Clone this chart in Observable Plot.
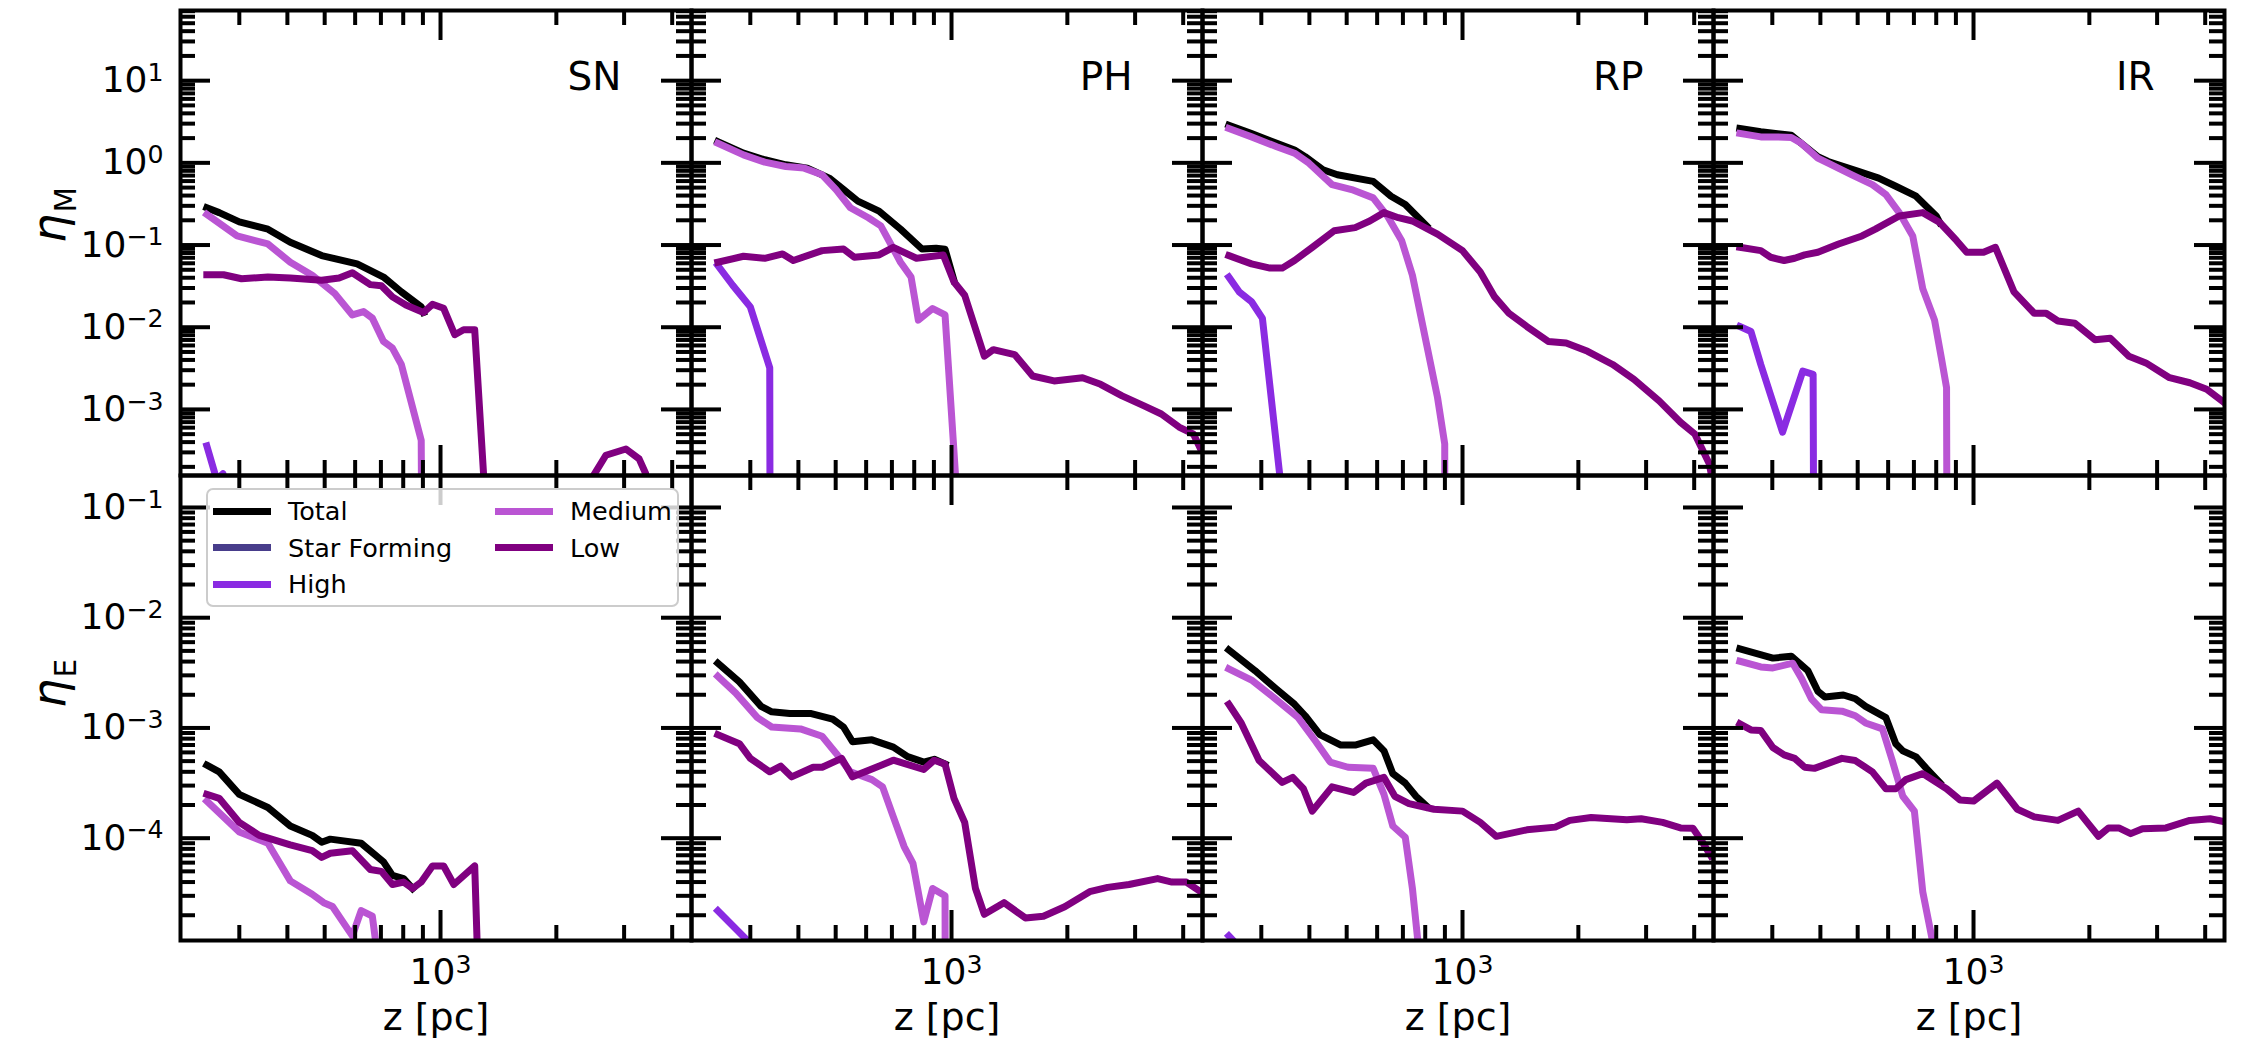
<!DOCTYPE html>
<html>
<head>
<meta charset="utf-8">
<script src="https://cdn.jsdelivr.net/npm/d3@7"></script>
<script src="https://cdn.jsdelivr.net/npm/@observablehq/plot@0.6"></script>
<style>
  body { margin: 0; background: #fff; }
  #fig { position: relative; width: 2250px; height: 1050px; background: #fff; font-family: "DejaVu Sans", sans-serif; color: #000; }
</style>
</head>
<body>
<div id="fig"></div>
<script>
// ---------------- categories / labels ----------------
const panels = ["SN", "PH", "RP", "IR"];
const rowLabels = ["η_M", "η_E"];
const series = ["Total", "Star Forming", "High", "Medium", "Low"];
const colors = ["#000000", "#483D8B", "#8A2BE2", "#BA55D3", "#800080"];
const xLabel = "z [pc]";

// ---------------- axes ----------------
const xDomain = [211, 4490];
const yDomainM = [1.57e-4, 71.4];
const yDomainE = [1.18e-5, 0.195];
const xMajor = [1000];
const xMinor = [300, 400, 500, 600, 700, 800, 900, 2000, 3000, 4000];
const yDecadesM = [1e-3, 1e-2, 1e-1, 1, 10];
const yDecadesE = [1e-4, 1e-3, 1e-2, 1e-1];

// ---------------- data: [z (pc), eta] ----------------
// SN, mass loading
const SN_M_total = [[247,0.284],[266,0.248],[300,0.191],[356,0.156],[407,0.108],[491,0.0744],[607,0.059],[711,0.0408],[791,0.0269],[891,0.0177],[903,0.0151]];
const SN_M_high = [[247,3.6e-4],[262,1.4e-4],[272,1.65e-4],[285,5e-5],[300,0]];
const SN_M_medium = [[247,0.236],[296,0.129],[356,0.103],[407,0.0618],[464,0.0428],[531,0.0257],[590,0.0141],[631,0.0155],[665,0.0129],[711,0.00672],[750,0.00558],[791,0.00352],[891,4.19e-4],[950,0]];
const SN_M_low = [[247,0.0435],[273,0.0435],[304,0.0389],[356,0.0408],[407,0.0398],[491,0.0372],[545,0.0398],[590,0.046],[657,0.033],[702,0.032],[750,0.0234],[813,0.0186],[903,0.0151],[953,0.019],[1019,0.017],[1089,0.0081],[1148,0.0093],[1227,0.0093],[1330,2e-5],[1400,0],[2400,0],[2483,1.5e-4],[2690,2.77e-4],[3033,3.3e-4],[3282,2.5e-4],[3413,1.66e-4],[3600,0]];
// SN, energy loading
const SN_E_total = [[247,4.6e-4],[266,4.0e-4],[300,2.5e-4],[356,1.9e-4],[407,1.29e-4],[464,1.06e-4],[491,9.2e-5],[517,9.8e-5],[622,9.0e-5],[711,6.1e-5],[750,4.6e-5],[802,4.3e-5],[846,3.5e-5]];
const SN_E_high = [];
const SN_E_medium = [[247,2.17e-4],[300,1.14e-4],[356,9.0e-5],[407,4.1e-5],[464,3.1e-5],[497,2.6e-5],[524,2.4e-5],[590,1.3e-5],[622,2.2e-5],[665,1.96e-5],[700,5e-6],[750,0]];
const SN_E_low = [[247,2.5e-4],[266,2.3e-4],[300,1.39e-4],[338,1.06e-4],[407,8.7e-5],[464,7.7e-5],[491,6.7e-5],[517,7.3e-5],[590,7.7e-5],[657,5.2e-5],[702,5.0e-5],[750,3.8e-5],[802,4.0e-5],[846,3.5e-5],[891,4.0e-5],[953,5.6e-5],[1019,5.6e-5],[1083,3.8e-5],[1227,5.6e-5],[1260,3e-6],[1330,0]];
// PH
const PH_M_total = [[247,1.81],[288,1.31],[327,1.09],[371,0.946],[422,0.863],[481,0.653],[524,0.473],[571,0.342],[648,0.259],[737,0.156],[838,0.0896],[912,0.0912],[962,0.089],[1015,0.037]];
const PH_M_high = [[247,0.0564],[270,0.0324],[300,0.0177],[337,0.0032],[345,0]];
const PH_M_medium = [[247,1.73],[288,1.25],[327,1.02],[371,0.904],[414,0.863],[461,0.716],[501,0.473],[546,0.284],[608,0.215],[655,0.171],[691,0.108],[737,0.0618],[785,0.0408],[820,0.0122],[893,0.0169],[962,0.0141],[1026,1.4e-4],[1100,0]];
const PH_M_low = [[247,0.0618],[288,0.073],[327,0.069],[364,0.078],[388,0.0648],[461,0.0855],[524,0.0896],[559,0.071],[648,0.0758],[706,0.0938],[811,0.069],[952,0.0758],[1015,0.0355],[1082,0.0245],[1217,0.00444],[1284,0.00533],[1459,0.00465],[1625,0.00255],[1847,0.00222],[2191,0.00243],[2440,0.00202],[2775,0.00146],[3155,0.00111],[3510,8.8e-4],[3903,6.1e-4],[4256,5.0e-4],[4440,3.3e-4]];
const PH_E_total = [[247,3.87e-3],[281,2.62e-3],[320,1.57e-3],[341,1.40e-3],[380,1.35e-3],[432,1.35e-3],[491,1.20e-3],[524,1.02e-3],[553,7.5e-4],[621,7.8e-4],[706,6.7e-4],[769,5.5e-4],[847,4.9e-4],[902,5.2e-4],[962,4.7e-4]];
const PH_E_high = [[247,2.2e-5],[297,1.15e-5],[330,6e-6]];
const PH_E_medium = [[247,2.94e-3],[275,2.07e-3],[313,1.24e-3],[341,1.02e-3],[405,9.8e-4],[461,8.4e-4],[501,5.9e-4],[546,4.0e-4],[621,3.4e-4],[662,2.92e-4],[706,1.56e-4],[753,8.4e-5],[794,5.9e-5],[847,1.74e-5],[893,3.5e-5],[962,3.0e-5],[1000,0]];
const PH_E_low = [[247,8.7e-4],[281,7.2e-4],[300,5.3e-4],[337,4.0e-4],[360,4.5e-4],[384,3.6e-4],[437,4.4e-4],[461,4.4e-4],[518,5.3e-4],[553,3.6e-4],[628,4.3e-4],[706,5.1e-4],[847,4.2e-4],[902,5.1e-4],[962,4.7e-4],[1015,2.3e-4],[1082,1.39e-4],[1154,3.5e-5],[1217,2.04e-5],[1369,2.6e-5],[1556,1.89e-5],[1733,1.96e-5],[1969,2.39e-5],[2286,3.27e-5],[2545,3.58e-5],[2893,3.8e-5],[3433,4.3e-5],[3740,4.0e-5],[4076,4.0e-5],[4440,3.27e-5]];
// RP
const RP_M_total = [[247,2.87],[283,2.27],[329,1.73],[366,1.43],[390,1.19],[434,0.824],[473,0.716],[586,0.596],[652,0.393],[710,0.312],[807,0.171]];
const RP_M_high = [[247,0.0408],[263,0.0269],[283,0.0204],[302,0.0128],[336,1.4e-4],[350,0]];
const RP_M_medium = [[247,2.62],[283,2.07],[329,1.57],[366,1.31],[399,0.99],[458,0.543],[515,0.473],[586,0.375],[638,0.225],[695,0.113],[741,0.0428],[807,0.00612],[861,0.0014],[899,3.8e-4],[920,0]];
const RP_M_low = [[247,0.0743],[283,0.059],[316,0.0524],[340,0.0524],[366,0.0648],[407,0.0938],[464,0.149],[526,0.163],[574,0.196],[625,0.248],[681,0.215],[741,0.196],[861,0.136],[1000,0.0855],[1112,0.0469],[1212,0.0234],[1320,0.0148],[1470,0.0102],[1670,0.00672],[1859,0.00641],[2114,0.00509],[2455,0.00352],[2790,0.00232],[3243,0.00127],[3685,6.97e-4],[4018,5.0e-4],[4375,2.2e-4],[4490,1.2e-4]];
const RP_E_total = [[247,5.1e-3],[289,3.31e-3],[329,2.24e-3],[366,1.64e-3],[390,1.29e-3],[426,8.7e-4],[483,7.0e-4],[526,7.0e-4],[586,7.8e-4],[625,6.2e-4],[659,3.85e-4],[710,3.16e-4],[757,2.4e-4],[807,1.95e-4]];
const RP_E_high = [[247,1.3e-5],[265,1.0e-5]];
const RP_E_medium = [[247,3.44e-3],[283,2.72e-3],[322,1.91e-3],[374,1.24e-3],[416,7.5e-4],[453,4.9e-4],[504,4.4e-4],[586,4.3e-4],[625,2.5e-4],[659,1.29e-4],[710,1.02e-4],[741,3.5e-5],[774,8e-6],[820,0]];
const RP_E_low = [[247,1.64e-3],[266,1.11e-3],[296,5.06e-4],[340,3.21e-4],[362,3.56e-4],[386,2.81e-4],[407,1.76e-4],[458,2.92e-4],[521,2.6e-4],[561,3.16e-4],[625,3.56e-4],[667,2.4e-4],[726,2.06e-4],[843,1.83e-4],[1000,1.76e-4],[1112,1.39e-4],[1224,1.04e-4],[1470,1.19e-4],[1742,1.26e-4],[1900,1.45e-4],[2159,1.54e-4],[2673,1.47e-4],[2912,1.5e-4],[3311,1.39e-4],[3685,1.24e-4],[3970,1.23e-4],[4188,9.4e-5],[4420,6.9e-5]];
// IR
const IR_M_total = [[247,2.62],[280,2.39],[336,2.17],[394,1.19],[419,1.04],[502,0.787],[567,0.653],[628,0.519],[709,0.393],[800,0.226],[817,0.188]];
const IR_M_high = [[247,0.0102],[264,0.00887],[280,0.00352],[319,5.3e-4],[360,0.00292],[383,0.00267],[400,0]];
const IR_M_medium = [[247,2.28],[280,2.07],[310,2.07],[336,2.04],[357,1.73],[394,1.14],[419,0.99],[483,0.716],[546,0.543],[592,0.411],[641,0.248],[695,0.129],[738,0.0295],[792,0.0122],[825,0.00424],[851,0.00184],[880,0]];
const IR_M_low = [[247,0.0938],[280,0.0855],[297,0.071],[322,0.0648],[343,0.069],[364,0.0758],[394,0.0817],[446,0.103],[513,0.129],[556,0.156],[641,0.226],[738,0.248],[817,0.188],[904,0.113],[960,0.0817],[1062,0.0817],[1140,0.0938],[1274,0.0269],[1438,0.0148],[1544,0.0148],[1657,0.0119],[1833,0.0112],[2069,0.00703],[2267,0.00736],[2534,0.00444],[2805,0.00368],[3231,0.00243],[3648,0.00211],[4036,0.00176],[4440,0.00125]];
const IR_E_total = [[247,5.22e-3],[301,4.3e-3],[336,4.47e-3],[371,3.31e-3],[394,2.15e-3],[411,1.91e-3],[459,1.99e-3],[493,1.84e-3],[524,1.57e-3],[592,1.24e-3],[628,7.2e-4],[655,6.2e-4],[709,5.47e-4],[754,4.3e-4],[817,3.2e-4]];
const IR_E_high = [];
const IR_E_medium = [[247,4.03e-3],[280,3.58e-3],[301,3.5e-3],[339,3.87e-3],[357,2.83e-3],[379,1.84e-3],[403,1.46e-3],[455,1.42e-3],[493,1.29e-3],[524,1.11e-3],[580,9.8e-4],[615,5.06e-4],[655,2.4e-4],[702,1.76e-4],[738,3.27e-5],[785,1.1e-5],[830,0]];
const IR_E_low = [[247,1.09e-3],[264,9.6e-4],[280,9.5e-4],[301,6.65e-4],[322,5.7e-4],[343,5.3e-4],[364,4.4e-4],[386,4.3e-4],[455,5.3e-4],[493,5.06e-4],[546,4.0e-4],[592,2.81e-4],[628,2.81e-4],[667,3.4e-4],[738,3.85e-4],[851,2.81e-4],[923,2.22e-4],[1000,2.17e-4],[1151,3.16e-4],[1300,1.83e-4],[1438,1.56e-4],[1657,1.45e-4],[1871,1.76e-4],[2112,1.04e-4],[2244,1.24e-4],[2386,1.24e-4],[2561,1.1e-4],[2748,1.22e-4],[3164,1.24e-4],[3648,1.45e-4],[4120,1.5e-4],[4440,1.42e-4]];
const starForming = []; // not visible in any panel

// table built from the named arrays: panel -> [mass row, energy row] -> series order
const table = {
  SN: [[SN_M_total, starForming, SN_M_high, SN_M_medium, SN_M_low], [SN_E_total, starForming, SN_E_high, SN_E_medium, SN_E_low]],
  PH: [[PH_M_total, starForming, PH_M_high, PH_M_medium, PH_M_low], [PH_E_total, starForming, PH_E_high, PH_E_medium, PH_E_low]],
  RP: [[RP_M_total, starForming, RP_M_high, RP_M_medium, RP_M_low], [RP_E_total, starForming, RP_E_high, RP_E_medium, RP_E_low]],
  IR: [[IR_M_total, starForming, IR_M_high, IR_M_medium, IR_M_low], [IR_E_total, starForming, IR_E_high, IR_E_medium, IR_E_low]]
};

// ---------------- layout ----------------
const FL = 180, FT = 10, PW = 511, PH = 465, BOTTOM = 110;
const MAJ = 30, MIN = 15, TW = 4, LW = 7;
const FLOOR = 1e-30; // zero values (log scale) pushed far below the frame, as matplotlib clips them

function minorTicks(dom) {
  const out = [];
  const lo = Math.floor(Math.log10(dom[0])), hi = Math.ceil(Math.log10(dom[1]));
  for (let n = lo; n <= hi; n++) for (let k = 2; k <= 9; k++) {
    const v = k * Math.pow(10, n);
    if (v >= dom[0] && v <= dom[1]) out.push(v);
  }
  return out;
}
const pow10 = d => "10^" + String(Math.round(Math.log10(d))).replace("-", "\u2212");

function richText(svg) {
  const NS = "http://www.w3.org/2000/svg";
  svg.querySelectorAll("text").forEach(t => {
    const s = t.textContent;
    const m = s.match(/^(.*?)([\^_])(.*)$/);
    if (!m) return;
    t.textContent = "";
    t.append(document.createTextNode(m[1]));
    const ts = document.createElementNS(NS, "tspan");
    ts.textContent = m[3];
    if (m[2] === "^") {
      ts.setAttribute("font-size", "70%");
      ts.setAttribute("dy", "-0.45em");
    } else {
      ts.setAttribute("font-size", "64%");
      ts.setAttribute("dy", "0.36em");
      ts.setAttribute("font-style", "normal");
      ts.setAttribute("dx", "0.05em");
    }
    t.append(ts);
  });
}

const fig = document.getElementById("fig");

for (let r = 0; r < 2; r++) {
  for (let c = 0; c < 4; c++) {
    const name = panels[c];
    const isLeft = c === 0, isBottom = r === 1;
    const mL = isLeft ? FL : 4, mR = 4, mT = r === 0 ? FT : 4, mB = isBottom ? BOTTOM : 4;
    const yDom = r === 0 ? yDomainM : yDomainE;
    const yMaj = r === 0 ? yDecadesM : yDecadesE;
    const yMin = minorTicks(yDom);
    const marks = [];
    table[name][r].forEach((arr, i) => {
      if (arr.length) marks.push(Plot.line(arr, {
        x: d => d[0], y: d => Math.max(d[1], FLOOR),
        stroke: colors[i], strokeWidth: LW, strokeLinejoin: "round", strokeLinecap: "square", clip: true
      }));
    });
    // inward ticks on all four sides
    const tk = {stroke: "black", strokeWidth: TW};
    marks.push(
      Plot.tickX(xMinor, {x: d => d, insetTop: PH - MIN, ...tk}),
      Plot.tickX(xMinor, {x: d => d, insetBottom: PH - MIN, ...tk}),
      Plot.tickX(xMajor, {x: d => d, insetTop: PH - MAJ, ...tk}),
      Plot.tickX(xMajor, {x: d => d, insetBottom: PH - MAJ, ...tk}),
      Plot.tickY(yMin, {y: d => d, insetRight: PW - MIN, ...tk}),
      Plot.tickY(yMin, {y: d => d, insetLeft: PW - MIN, ...tk}),
      Plot.tickY(yMaj, {y: d => d, insetRight: PW - MAJ, ...tk}),
      Plot.tickY(yMaj, {y: d => d, insetLeft: PW - MAJ, ...tk}),
      Plot.frame({stroke: "black", strokeWidth: TW})
    );
    if (r === 0) marks.push(Plot.text([name], {frameAnchor: "top-right", dx: -70, dy: 52, lineAnchor: "top", textAnchor: "end", fontSize: 39, fill: "black"}));
    if (isLeft) {
      marks.push(Plot.axisY(yMaj, {anchor: "left", tickSize: 0, tickPadding: 17, fontSize: 36, tickFormat: pow10, label: null}));
      marks.push(Plot.text([rowLabels[r]], {frameAnchor: "left", dx: -130, rotate: -90, fontSize: 46, fontStyle: "italic", fill: "black"}));
    }
    if (isBottom) {
      marks.push(Plot.axisX(xMajor, {anchor: "bottom", tickSize: 0, tickPadding: 18, fontSize: 36, tickFormat: pow10, label: null}));
      marks.push(Plot.text([xLabel], {frameAnchor: "bottom", dy: 89, lineAnchor: "bottom", fontSize: 38, fill: "black"}));
    }
    const svg = Plot.plot({
      width: PW + mL + mR, height: PH + mT + mB,
      marginLeft: mL, marginRight: mR, marginTop: mT, marginBottom: mB,
      x: {type: "log", domain: xDomain, axis: isBottom ? undefined : null},
      y: {type: "log", domain: yDom, axis: isLeft ? undefined : null},
      style: {fontFamily: "DejaVu Sans", background: "transparent", color: "black", overflow: "visible"},
      marks
    });
    richText(svg);
    svg.style.position = "absolute";
    svg.style.left = (FL + c * PW - mL) + "px";
    svg.style.top = (FT + r * PH - mT) + "px";
    svg.style.maxWidth = "none";
    fig.append(svg);
  }
}

// legend (in the lower-left panel)
const leg = document.createElement("div");
leg.style.cssText = "position:absolute;left:206px;top:488px;width:473px;height:119px;box-sizing:border-box;border:2px solid #cccccc;border-radius:7px;background:rgba(255,255,255,0.8);font-family:'DejaVu Sans';font-size:25.5px;color:#000;z-index:5;";
series.forEach((s, i) => {
  const col = Math.floor(i / 3), row = i % 3;
  const item = document.createElement("div");
  item.style.cssText = `position:absolute;left:${5 + col * 282}px;top:${6 + row * 36.5}px;height:30px;display:flex;align-items:center;white-space:nowrap;`;
  const sw = document.createElement("span");
  sw.style.cssText = `display:inline-block;width:58px;height:${LW}px;background:${colors[i]};margin-right:17px;`;
  const tx = document.createElement("span");
  tx.textContent = s;
  item.append(sw, tx);
  leg.append(item);
});
fig.append(leg);
</script>
</body>
</html>
